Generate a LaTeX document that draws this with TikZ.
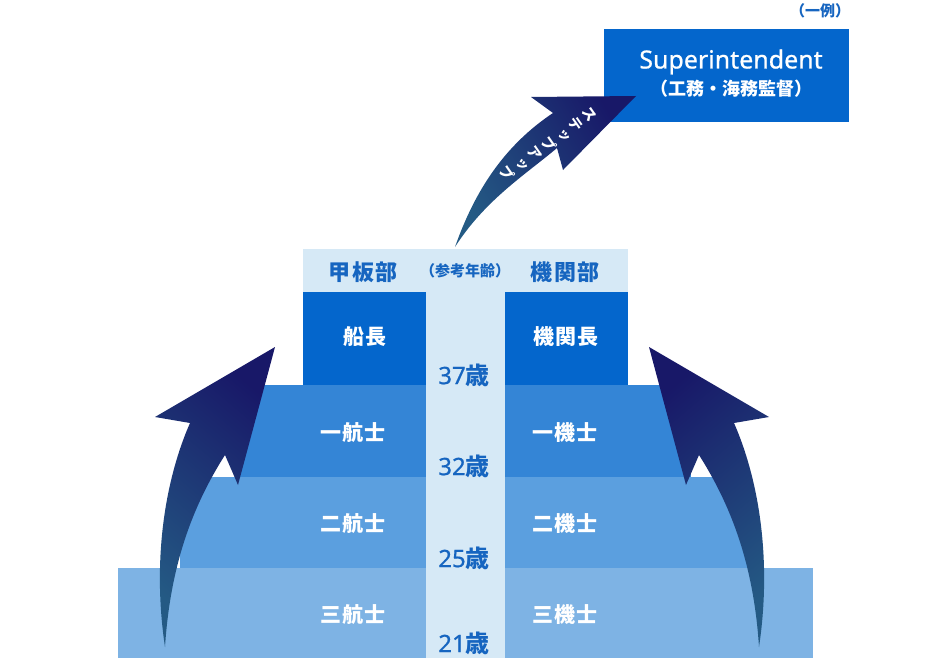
\documentclass[tikz,border=0pt]{standalone}
\usepackage{fontspec}
\setmainfont{Noto Sans CJK JP}
\newfontfamily\lat{Noto Sans}[FakeBold=0.7]
\definecolor{boxblue}{RGB}{4,102,204}
\definecolor{rowc}{RGB}{52,133,214}
\definecolor{rowb}{RGB}{91,159,223}
\definecolor{rowa}{RGB}{126,179,228}
\definecolor{pale}{RGB}{214,233,246}
\definecolor{txtblue}{RGB}{22,101,192}
\definecolor{arlight}{RGB}{36,90,132}
\definecolor{ardark}{RGB}{24,24,104}
\newcommand{\jfs}[1]{\bfseries\fontsize{#1}{#1}\selectfont}
\newcommand{\tk}{\kern1.5pt}
\newcommand{\smtsu}{\raisebox{2pt}{\kern4pt\fontsize{13}{13}\selectfont ッ}}
\tikzset{
  lbl/.style={white, font=\jfs{21}},
  age/.style={txtblue, font=\jfs{24}},
  head/.style={txtblue, font=\jfs{22}},
  every node/.style={inner sep=0pt, outer sep=0pt}
}
\begin{document}
\begin{tikzpicture}[x=1pt,y=-1pt]
\useasboundingbox (0,0) rectangle (934,658);
% steps
\fill[rowa] (118,568) rectangle (813,658);
\fill[rowb] (180,477) rectangle (751,568);
\fill[rowc] (240,385) rectangle (691,477);
\fill[boxblue] (303,292) rectangle (426,385);
\fill[boxblue] (505,292) rectangle (628,385);
\fill[pale] (303,249) rectangle (628,292);
\fill[pale] (426,292) rectangle (505,658);
% superintendent box
\fill[boxblue] (604,29) rectangle (849,122);
% arrows
\shade[bottom color=arlight, top color=ardark, shading angle=-40]
  (165,647) .. controls (152,560) and (165,480) .. (190,423)
  -- (155,417) -- (275,347) -- (238,485) -- (225,455)
  .. controls (190,510) and (170,570) .. (165,647) -- cycle;
\shade[bottom color=arlight, top color=ardark, shading angle=40]
  (759,647) .. controls (772,560) and (759,480) .. (734,423)
  -- (769,417) -- (649,347) -- (686,485) -- (699,455)
  .. controls (734,510) and (754,570) .. (759,647) -- cycle;
\shade[bottom color=arlight, top color=ardark, shading angle=-60]
  (455,247) .. controls (475,190) and (505,145) .. (553,113)
  -- (531,97) -- (636,96) -- (563,170) -- (557,148)
  .. controls (525,175) and (485,200) .. (455,247) -- cycle;
% texts
\node[white, font={\lat\fontsize{25}{25}\selectfont}] (sup) at (731,62) {Superintendent};
\node[white, font=\jfs{18}] (supj) at (731,89) {（工務・海務監督）};
\node[txtblue, font=\jfs{15}] (rei) at (820,11) {（一例）};
\node[white, rotate=-55, align=center, text width=18pt,
  font=\bfseries\fontsize{14}{17}\selectfont] (stepup) at (548,144)
  {ス\\テ\\\smtsu\\プ\\ア\\\smtsu\\プ};
\node[head] (kanpan) at (363,272) {甲\tk 板\tk 部};
\node[txtblue, font=\jfs{15}] (sanko) at (465,271) {（参考年齢）};
\node[head] (kikan) at (565,272) {機\tk 関\tk 部};
\node[lbl] (sencho) at (365,337) {船\tk 長};
\node[lbl] (kikancho) at (566,337) {機\tk 関\tk 長};
\node[lbl] (ikko) at (353,433) {一\tk 航\tk 士};
\node[lbl] (niko) at (353,524) {二\tk 航\tk 士};
\node[lbl] (sanko3) at (353,615) {三\tk 航\tk 士};
\node[lbl] (ikki) at (565,433) {一\tk 機\tk 士};
\node[lbl] (niki) at (565,524) {二\tk 機\tk 士};
\node[lbl] (sanki) at (565,615) {三\tk 機\tk 士};
\node[age] (a37) at (464,375) {{\lat 37}歳};
\node[age] (a32) at (464,466) {{\lat 32}歳};
\node[age] (a25) at (464,558) {{\lat 25}歳};
\node[age] (a21) at (464,643) {{\lat 21}歳};
\end{tikzpicture}
\end{document}
